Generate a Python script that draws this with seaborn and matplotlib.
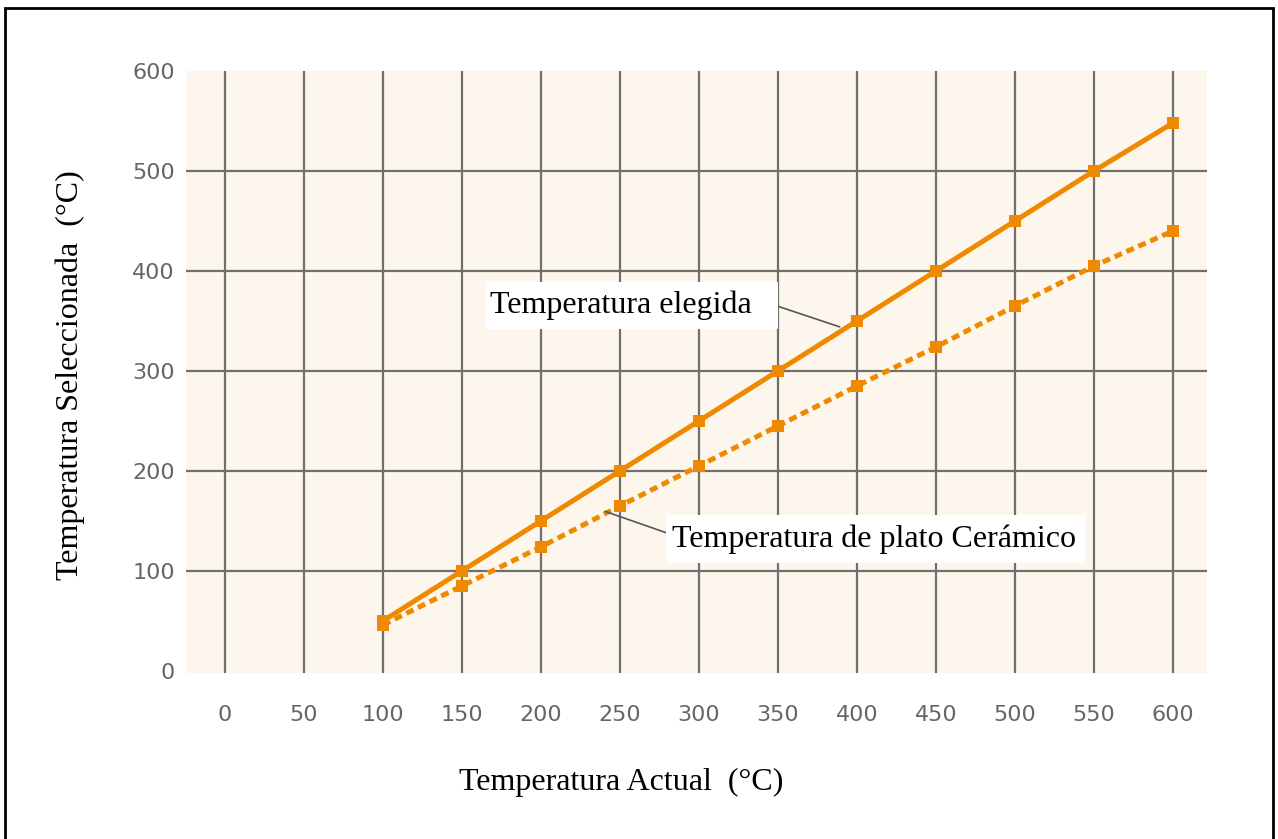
import matplotlib
matplotlib.use("Agg")
import matplotlib.pyplot as plt
import matplotlib.patches as patches
import seaborn as sns
import pandas as pd

# valores
temp_actual = [100, 150, 200, 250, 300, 350, 400, 450, 500, 550, 600]
temp_elegida = [50, 100, 150, 200, 250, 300, 350, 400, 450, 500, 548]
temp_ceramico = [46, 85, 124, 165, 205, 245, 285, 324, 365, 405, 440]
xticks = [0, 50, 100, 150, 200, 250, 300, 350, 400, 450, 500, 550, 600]
yticks = [0, 100, 200, 300, 400, 500, 600]

naranja = "#EF8A00"
gris = "#6f6f6f"

sns.set_style("white")
plt.rcParams["font.family"] = ["DejaVu Sans"]

df = pd.DataFrame({"actual": temp_actual, "elegida": temp_elegida, "ceramico": temp_ceramico})

fig = plt.figure(figsize=(12.78, 8.39), dpi=100)
ax = fig.add_axes([0.1455, 0.198, 0.799, 0.7175])
ax.set_facecolor("#FDF6EC")
for s in ax.spines.values():
    s.set_visible(False)

# rejilla
for xv in xticks:
    ax.axvline(xv, color=gris, lw=1.6, zorder=1)
for yv in yticks[1:-1]:
    ax.axhline(yv, color=gris, lw=1.6, zorder=1)

sns.lineplot(data=df, x="actual", y="elegida", ax=ax, color=naranja, lw=3.6,
             marker="s", markersize=9, markeredgewidth=0, zorder=3)
sns.lineplot(data=df, x="actual", y="ceramico", ax=ax, color=naranja, lw=3.6,
             linestyle=(0, (1.6, 1.0)), marker="s", markersize=9, markeredgewidth=0, zorder=3)

ax.set_xlim(-24.7, 621.5)
ax.set_ylim(-2, 600)
ax.set_xticks(xticks)
ax.set_yticks(yticks)
ax.tick_params(axis="both", length=0, labelsize=16, labelcolor="#666666")
ax.tick_params(axis="x", pad=23)
ax.tick_params(axis="y", pad=8)
ax.set_xlabel("")
ax.set_ylabel("")

serif = ["Liberation Serif", "DejaVu Serif"]
fig.text(621 / 1278, 1 - 782 / 839, "Temperatura Actual  (°C)", family=serif,
         fontsize=23, color="black", ha="center", va="center")
fig.text(70 / 1278, 1 - 375 / 839, "Temperatura Seleccionada  (°C)", family=serif,
         fontsize=23, color="black", ha="center", va="center", rotation=90)

# etiquetas con caja blanca y linea guia
fig.patches.append(patches.Rectangle((486, 839 - 329), 292, 47, transform=None,
                                     fc="white", ec="none", zorder=5))
fig.text(490, 839 - 305, "Temperatura elegida", transform=None, family=serif,
         fontsize=23, color="black", ha="left", va="center", zorder=6)
ax.annotate("", xy=(389, 344), xytext=(777, 839 - 306), textcoords="figure pixels",
            arrowprops=dict(arrowstyle="-", color="#555555", lw=1.2, shrinkA=0, shrinkB=0),
            zorder=4)

fig.patches.append(patches.Rectangle((666, 839 - 563), 419, 48, transform=None,
                                     fc="white", ec="none", zorder=5))
fig.text(672, 839 - 539, "Temperatura de plato Cerámico", transform=None, family=serif,
         fontsize=23, color="black", ha="left", va="center", zorder=6)
ax.annotate("", xy=(240.5, 159.5), xytext=(667, 839 - 533), textcoords="figure pixels",
            arrowprops=dict(arrowstyle="-", color="#555555", lw=1.2, shrinkA=0, shrinkB=0),
            zorder=4)

# marco exterior
fig.patches.append(patches.Rectangle((5 / 1278, -0.01), 1268 / 1278, 1 - 8 / 839 + 0.01,
                                     transform=fig.transFigure, fill=False, ec="black", lw=2))

fig.savefig("out.png", dpi=100)
